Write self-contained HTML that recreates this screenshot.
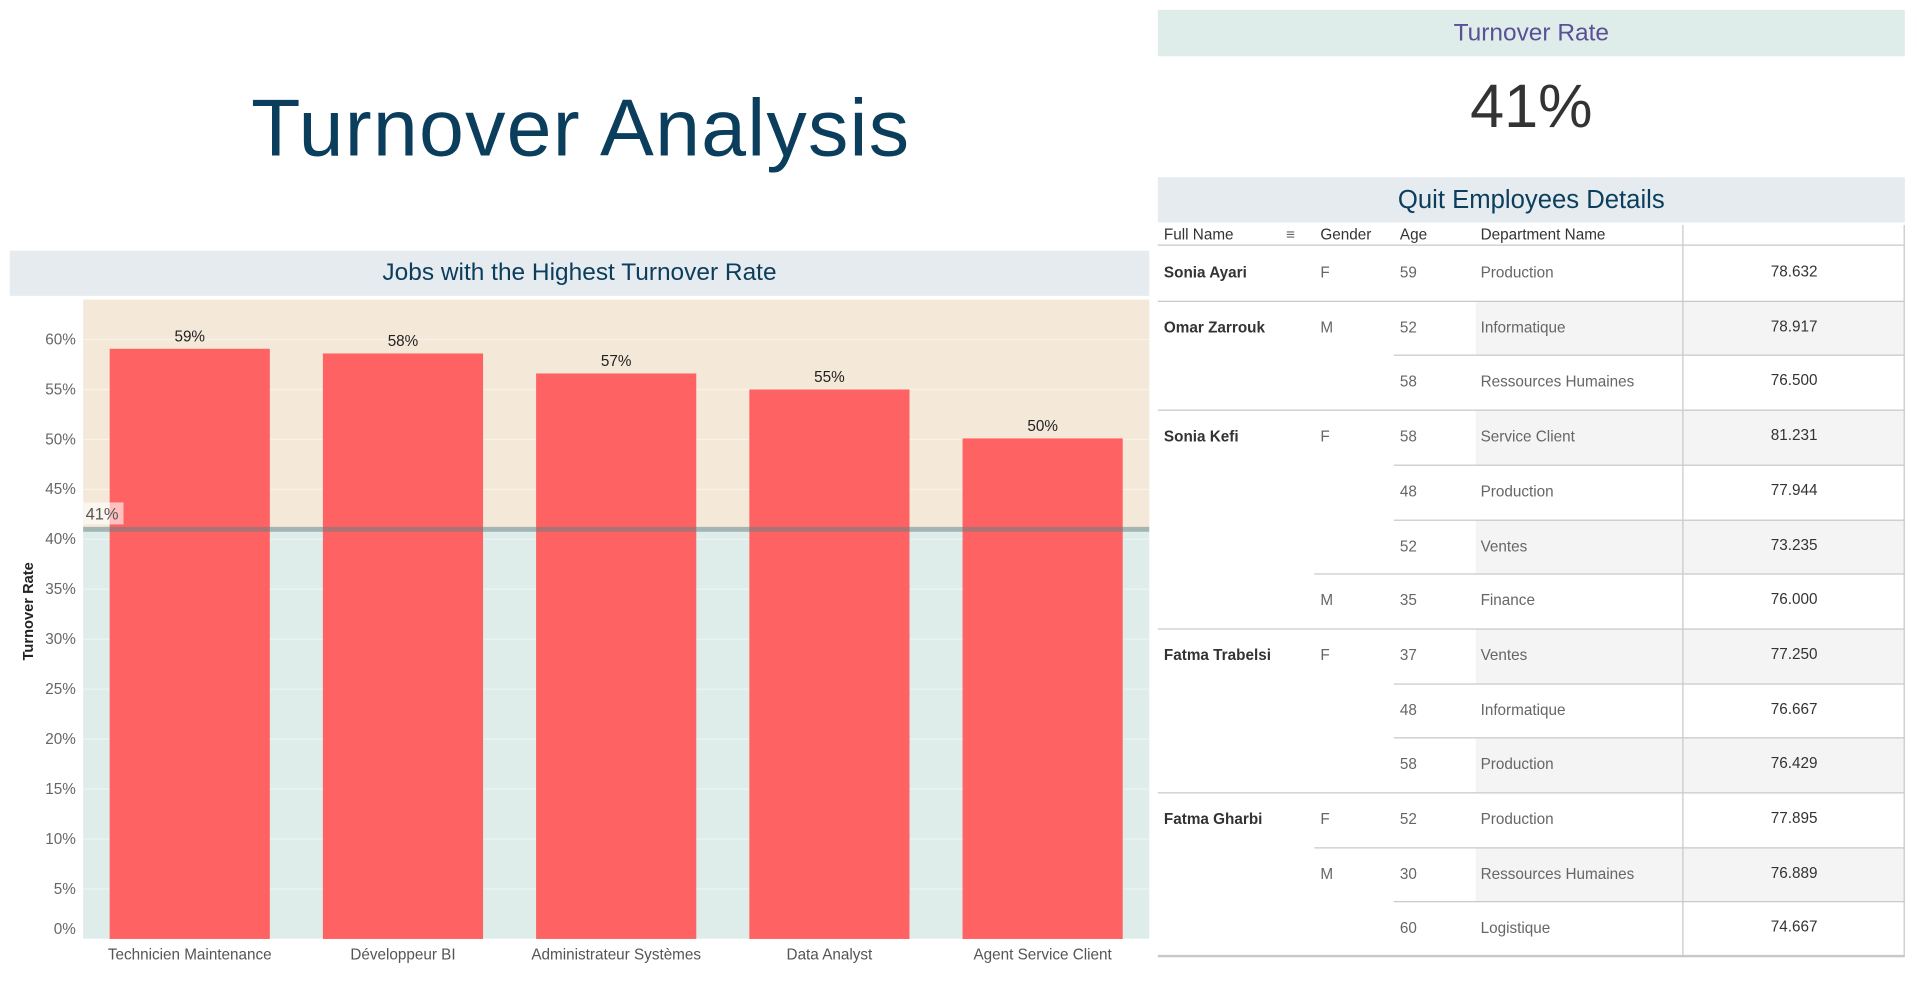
<!DOCTYPE html>
<html><head><meta charset="utf-8"><style>
html,body{margin:0;padding:0;background:#fff;width:1917px;height:993px;overflow:hidden}
#wrap{position:absolute;left:0;top:0;width:1568px;height:812px;transform:scale(1.2226);transform-origin:0 0;font-family:"Liberation Sans",sans-serif}
.abs{position:absolute}
.band{position:absolute;display:flex;align-items:center;justify-content:center}
.cell{position:absolute;font-size:12.5px;color:#666;white-space:nowrap}
.name{font-weight:bold;color:#333}
.val{color:#333;text-align:center;width:181px;left:1377px}
.hd{position:absolute;font-size:12.5px;color:#333;top:185px}
</style></head><body>
<div id="wrap">
<div class="abs" style="left:0;width:950px;top:66px;text-align:center;font-size:66px;color:#0b3d5c;letter-spacing:1px">Turnover Analysis</div>

<div class="band" style="left:8px;top:205px;width:932px;height:37px;background:#e6ebef;font-size:20px;color:#0b3d5c">Jobs with the Highest Turnover Rate</div>
<svg class="abs" id="chart" style="left:0;top:242px" width="945" height="560"></svg>

<div class="band" style="left:947px;top:8px;width:611px;height:38px;background:#deecea;font-size:20px;color:#5b4f96">Turnover Rate</div>
<div class="abs" style="left:947px;width:611px;top:58px;text-align:center;font-size:50px;color:#333">41%</div>

<div class="band" style="left:947px;top:145px;width:611px;height:37px;background:#e6ebef;font-size:21px;color:#0b3d5c">Quit Employees Details</div>
<div id="table">
<div class="hd" style="left:952px">Full Name</div>
<div class="hd" style="left:1052px;color:#666">&#8801;</div>
<div class="hd" style="left:1080px">Gender</div>
<div class="hd" style="left:1145px">Age</div>
<div class="hd" style="left:1211px">Department Name</div>
</div>
</div>
<script>
// chart data
const categories=["Technicien Maintenance","Développeur BI","Administrateur Systèmes","Data Analyst","Agent Service Client"];
const values=[59.07,58.6,56.6,55.0,50.1];
const valueLabels=["59%","58%","57%","55%","50%"];
const yTicks=[0,5,10,15,20,25,30,35,40,45,50,55,60];
const refValue=41;
const svg=document.getElementById('chart');
const NS="http://www.w3.org/2000/svg";
const oy=242, x0=68, x1=940, yBase=768-oy, yTop=245-oy, yMax=64;
const y=v=>yBase-(v/yMax)*(yBase-yTop);
const band=(x1-x0)/categories.length;
const xc=i=>x0+band*(i+0.5);
function mk(t,a,txt){const e=document.createElementNS(NS,t);for(const k in a)e.setAttribute(k,a[k]);if(txt!==undefined)e.textContent=txt;svg.appendChild(e);return e;}
let e;
e=mk('rect',{x:x0,y:yTop,width:x1-x0,height:y(refValue)-yTop,fill:'#f4e8d8'});


e=mk('rect',{x:x0,y:y(refValue),width:x1-x0,height:yBase-y(refValue),fill:'#deecea'});


yTicks.forEach(t=>{
 e=mk('line',{x1:x0,x2:x1,y1:y(t),y2:y(t),stroke:'#fff','stroke-opacity':0.45,'stroke-width':1});
 
 
 e=mk('text',{x:62,y:(t===0?y(t)-4:y(t)+4),'text-anchor':'end','font-size':12.5,fill:'#666'},t+'%');
 
 
});
const bw=131;
values.forEach((v,i)=>{
 e=mk('rect',{x:xc(i)-bw/2,y:y(v),width:bw,height:yBase-y(v),fill:'#fe6262'});
 
 
 e=mk('text',{x:xc(i),y:y(v)-6,'text-anchor':'middle','font-size':12.5,fill:'#222'},valueLabels[i]);
 
 
 e=mk('text',{x:xc(i),y:yBase+17,'text-anchor':'middle','font-size':12.5,fill:'#555'},categories[i]);
 
 
});
e=mk('rect',{x:x0,y:y(refValue)-2,width:x1-x0,height:4,fill:'#5e7f86','fill-opacity':0.5});


e=mk('rect',{x:x0,y:y(refValue)-22,width:33,height:18,fill:'#fff','fill-opacity':0.6});


e=mk('text',{x:x0+2,y:y(refValue)-8,'font-size':13.5,fill:'#555'},refValue+'%');


e=mk('text',{x:27,y:500-oy,'text-anchor':'middle','font-size':12,'font-weight':'bold',fill:'#222',transform:'rotate(-90 27 '+(500-oy)+')'},'Turnover Rate');



// table
const rows=[
["Sonia Ayari","F","59","Production","78.632",947],
["Omar Zarrouk","M","52","Informatique","78.917",947],
["","","58","Ressources Humaines","76.500",1140],
["Sonia Kefi","F","58","Service Client","81.231",947],
["","","48","Production","77.944",1140],
["","","52","Ventes","73.235",1140],
["","M","35","Finance","76.000",1075],
["Fatma Trabelsi","F","37","Ventes","77.250",947],
["","","48","Informatique","76.667",1140],
["","","58","Production","76.429",1140],
["Fatma Gharbi","F","52","Production","77.895",947],
["","M","30","Ressources Humaines","76.889",1075],
["","","60","Logistique","74.667",1140]];
const tb=document.getElementById('table');
function d(cls,st,txt){const el=document.createElement('div');el.className=cls;el.style.cssText=st;if(txt!==undefined)el.textContent=txt;tb.appendChild(el);return el;}
const rh=44.7, t0=201;
let el;
rows.forEach((r,i)=>{
 const top=t0+i*rh;
 if(i%2===1){
  el=d('abs','left:1207px;top:'+top+'px;width:351px;height:'+rh+'px;background:#f4f4f4');
  
  
 }
});
rows.forEach((r,i)=>{
 const top=t0+i*rh;
 if(i>0){
  el=d('abs','left:'+r[5]+'px;top:'+(top)+'px;width:'+(1558-r[5])+'px;height:1px;background:#c8c8c8');
  
  
 }
 const ty=top+15;
 if(r[0]){el=d('cell name','left:952px;top:'+ty+'px',r[0]);}
 if(r[1]){el=d('cell','left:1080px;top:'+ty+'px',r[1]);}
 el=d('cell','left:1145px;top:'+ty+'px',r[2]);
 
 
 el=d('cell','left:1211px;top:'+ty+'px',r[3]);
 
 
 el=d('cell val','top:'+(ty-1)+'px;left:1377px',r[4]);
 
 
});
el=d('abs','left:947px;top:200px;width:611px;height:1px;background:#c8c8c8');


el=d('abs','left:1376px;top:184px;width:1px;height:598px;background:#c8c8c8');


el=d('abs','left:1557px;top:184px;width:1px;height:598px;background:#c8c8c8');


el=d('abs','left:947px;top:781px;width:611px;height:1.5px;background:#c8c8c8');


</script>
</body></html>
